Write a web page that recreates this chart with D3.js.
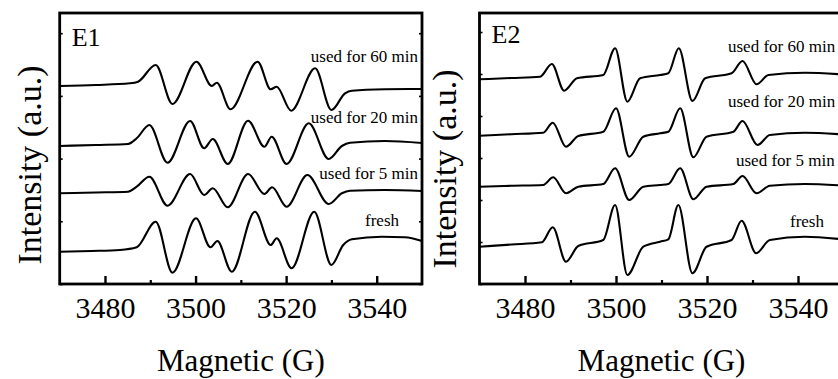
<!DOCTYPE html>
<html>
<head>
<meta charset="utf-8">
<script src="https://cdn.jsdelivr.net/npm/d3@7"></script>
<style>
  html, body { margin: 0; padding: 0; background: #fff; }
</style>
</head>
<body>
<div id="chart"></div>
<script>
const Width = 838;
const Height = 379;
const serif = "Liberation Serif, Tinos, Nimbus Roman, DejaVu Serif, serif";

// field axis (G)
const fieldDomain = [3470, 3550];
const xTicks = [3480, 3500, 3520, 3540];
const xMinorTicks = [3490, 3510, 3530];
const curveLabels = ["used for 60 min", "used for 20 min", "used for 5 min", "fresh"];

// spectra: [field (G), intensity (a.u.)]
const e1Used60 = [[3470, 198], [3478, 199], [3485.5, 200.7], [3487.3, 202.3], [3491.2, 219], [3494.9, 180],
  [3500.2, 222.3], [3503.6, 198], [3504.7, 201.3], [3507.7, 174.7], [3513.7, 222.3], [3516.6, 194.7],
  [3517.9, 197.3], [3521.1, 173.3], [3526.4, 215.7], [3530.0, 174], [3533.0, 190.7], [3534.5, 193.3],
  [3541.8, 194.7], [3550, 195]];
const e1Used20 = [[3470, 138], [3478, 139], [3485.1, 140], [3487.0, 145.7], [3489.8, 159], [3493.8, 121.3],
  [3498.8, 163], [3501.9, 135.7], [3503.8, 145], [3507.1, 120], [3511.6, 163.3], [3515.2, 137.3],
  [3516.8, 147.3], [3520.1, 120], [3525.0, 160.7], [3529.4, 125], [3532.3, 138], [3534.1, 141.3],
  [3541.8, 143], [3550, 141]];
const e1Used5 = [[3470, 90.7], [3478, 91.5], [3485.1, 92.3], [3487.0, 97.3], [3489.8, 107.3], [3493.8, 78.3],
  [3498.8, 110], [3501.9, 89], [3503.8, 95.7], [3507.1, 76.7], [3511.6, 110], [3515.2, 90],
  [3516.9, 96.7], [3520.1, 77.3], [3524.7, 109], [3529.4, 80], [3532.3, 90.7], [3534.1, 93.3],
  [3541.8, 94], [3550, 93]];
const e1Fresh = [[3470, 32.3], [3477, 33], [3483.3, 34], [3487.0, 36.7], [3491.2, 62.3], [3494.9, 11.3],
  [3500.1, 65.7], [3503.3, 36.7], [3504.8, 43], [3508.0, 12.3], [3513.1, 72.3], [3516.6, 39],
  [3517.9, 45.7], [3521.2, 15.7], [3526.2, 72.3], [3530.0, 19], [3532.6, 39], [3534.5, 44.7],
  [3541.1, 47.3], [3546.2, 46.7], [3550, 43]];

const e2Used60 = [[3470, 204.7], [3477, 206], [3483.3, 207.3], [3485.9, 220], [3488.6, 193.3], [3491.4, 205.7],
  [3497.2, 209], [3499.8, 235.7], [3502.5, 182.3], [3505.3, 205.7], [3509.7, 209], [3511.5, 210.7],
  [3513.8, 235.7], [3516.8, 183], [3519.6, 205.7], [3525.4, 210.7], [3527.8, 223], [3530.9, 199.7],
  [3533.5, 209], [3541.5, 211.3], [3550, 209.5]];
const e2Used20 = [[3470, 148.3], [3477, 149.8], [3484.0, 151.3], [3486.1, 161.3], [3489.0, 137.3], [3491.7, 148],
  [3497.2, 152.3], [3500.0, 175.7], [3502.9, 127.3], [3506.0, 147.3], [3509.7, 150.7], [3511.5, 152.3],
  [3514.1, 175.7], [3517.0, 126.7], [3519.9, 147.3], [3525.8, 152.3], [3527.8, 163], [3531.1, 139],
  [3533.8, 149], [3541.5, 151.3], [3550, 149.5]];
const e2Used5 = [[3470, 97.3], [3477, 98.2], [3484.0, 99], [3486.2, 106.7], [3489.0, 90.7], [3491.7, 97.3],
  [3497.2, 100], [3499.8, 115.7], [3502.9, 84], [3506.0, 97.3], [3509.7, 99], [3511.5, 100],
  [3514.1, 115.7], [3517.0, 84.7], [3519.9, 97.3], [3525.8, 100], [3527.8, 108], [3530.9, 90.7],
  [3533.8, 98.3], [3541.5, 100], [3550, 98.5]];
const e2Fresh = [[3470, 37.3], [3477, 39.5], [3483.7, 41.7], [3486.1, 56.7], [3489.0, 22.3], [3491.7, 38],
  [3497.2, 44], [3499.8, 79], [3502.5, 9], [3506.0, 37.3], [3509.7, 42.3], [3511.5, 44.7],
  [3513.7, 79], [3516.8, 10.7], [3519.9, 37.3], [3525.4, 44], [3527.6, 63.3], [3530.8, 30.7],
  [3533.8, 44], [3541.5, 47.3], [3550, 44.5]];

const svg = d3.select("#chart").append("svg")
    .attr("width", Width).attr("height", Height)
    .attr("font-family", serif);

const plotTop = 13, plotBottom = 284;
const y = d3.scaleLinear().domain([0, 271]).range([plotBottom, plotTop]);

const line = d3.line()
    .x(d => d[0])
    .y(d => d[1])
    .curve(d3.curveMonotoneX);

function drawPanel(opt) {
    const x = d3.scaleLinear().domain(fieldDomain).range([opt.left, opt.right]);
    const g = svg.append("g");

    // spectra
    opt.series.forEach(s => {
        g.append("path")
            .attr("d", line(s.map(d => [x(d[0]), y(d[1])])))
            .attr("fill", "none")
            .attr("stroke", "black")
            .attr("stroke-width", 2.1)
            .attr("stroke-linejoin", "round");
    });

    // major ticks + labels
    const axis = g.append("g")
        .attr("transform", `translate(0,${plotBottom})`)
        .call(d3.axisBottom(x).tickValues(xTicks).tickFormat(d3.format("d"))
            .tickSizeInner(-8).tickSizeOuter(0));
    axis.attr("font-family", serif).attr("font-size", 30);
    axis.select(".domain").remove();
    axis.selectAll("line").attr("stroke", "black").attr("stroke-width", 2.4);
    axis.selectAll("text").attr("y", 34).attr("dy", 0).attr("fill", "black");

    // minor ticks
    const minor = g.append("g")
        .attr("transform", `translate(0,${plotBottom})`)
        .call(d3.axisBottom(x).tickValues(xMinorTicks).tickSizeInner(-4).tickSizeOuter(0).tickFormat(""));
    minor.select(".domain").remove();
    minor.selectAll("line").attr("stroke", "black").attr("stroke-width", 2.2);

    // small y ticks on both sides
    const yl = g.append("g")
        .attr("transform", `translate(${opt.left},0)`)
        .call(d3.axisLeft(y).tickValues(opt.yTicks).tickSize(-3).tickFormat(""));
    yl.select(".domain").remove();
    yl.selectAll("line").attr("stroke", "black").attr("stroke-width", 1.6);
    const yr = g.append("g")
        .attr("transform", `translate(${opt.right},0)`)
        .call(d3.axisRight(y).tickValues(opt.yTicks).tickSize(-3).tickFormat(""));
    yr.select(".domain").remove();
    yr.selectAll("line").attr("stroke", "black").attr("stroke-width", 1.6);

    // frame
    g.append("rect")
        .attr("x", opt.left).attr("y", plotTop)
        .attr("width", opt.right - opt.left).attr("height", plotBottom - plotTop)
        .attr("fill", "none")
        .attr("stroke", "black")
        .attr("stroke-width", 2.8);

    // panel name
    g.append("text")
        .attr("x", opt.left + 12).attr("y", opt.nameY)
        .attr("font-size", 26)
        .text(opt.name);

    // curve labels
    curveLabels.forEach((t, i) => {
        g.append("text")
            .attr("x", opt.labelX[i]).attr("y", opt.labelY[i])
            .attr("text-anchor", opt.anchor)
            .attr("font-size", 17)
            .text(t);
    });

    // axis titles
    g.append("text")
        .attr("x", (opt.left + opt.right) / 2).attr("y", 371)
        .attr("text-anchor", "middle")
        .attr("font-size", 31)
        .text("Magnetic (G)");
    g.append("text")
        .attr("transform", `translate(${opt.left - opt.titleGap},${opt.titleY}) rotate(-90)`)
        .attr("text-anchor", "middle")
        .attr("font-size", 34)
        .text("Intensity (a.u.)");
}

drawPanel({
    left: 59.7, right: 422, name: "E1", nameY: 46,
    series: [e1Used60, e1Used20, e1Used5, e1Fresh],
    yTicks: d3.range(0, 271, 62.7),
    labelX: [418, 418, 418, 399], labelY: [62, 123, 179, 226], anchor: "end",
    titleY: 165, titleGap: 19
});

drawPanel({
    left: 479.5, right: 843.5, name: "E2", nameY: 43,
    series: [e2Used60, e2Used20, e2Used5, e2Fresh],
    yTicks: d3.range(0, 271, 42),
    labelX: [728, 728, 736, 790], labelY: [52, 107, 166, 227], anchor: "start",
    titleY: 169, titleGap: 24
});
</script>
</body>
</html>
